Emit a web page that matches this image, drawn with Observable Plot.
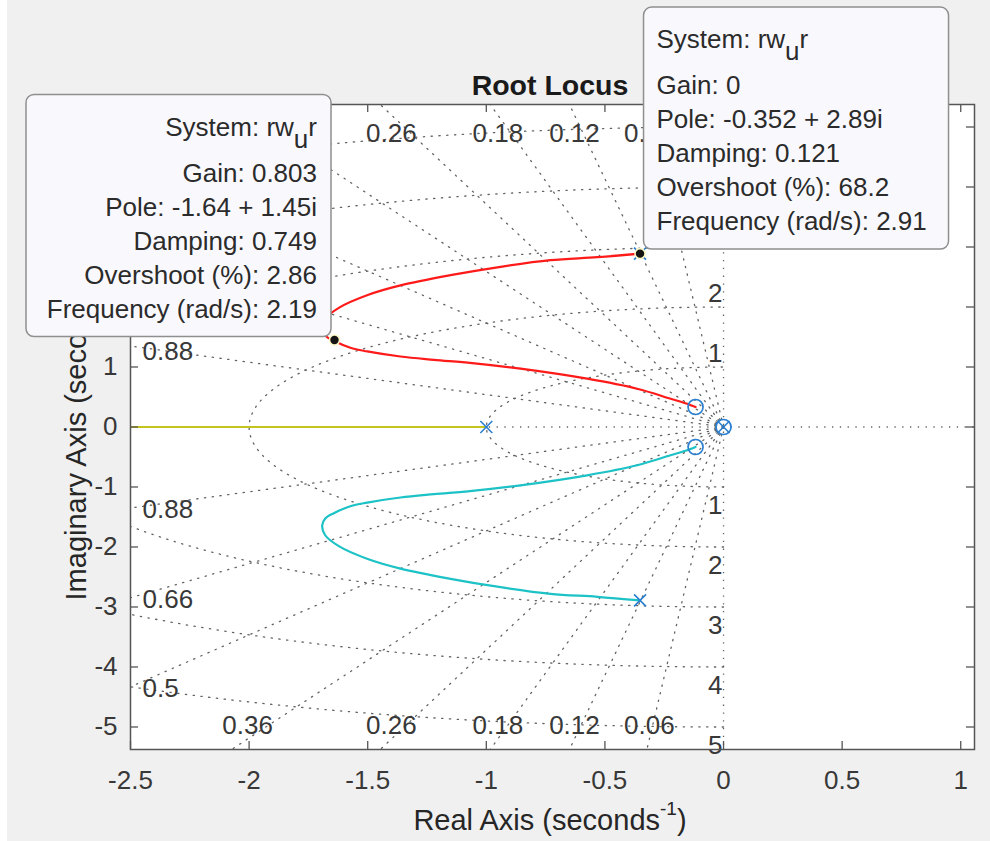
<!DOCTYPE html>
<html><head><meta charset="utf-8">
<script src="https://cdn.jsdelivr.net/npm/d3@7"></script>
<script src="https://cdn.jsdelivr.net/npm/@observablehq/plot@0.6"></script>
<style>
html,body{margin:0;padding:0;background:#f0f0f0;}
#chart{width:990px;height:841px;position:relative;overflow:hidden;}
svg{display:block}
</style></head><body><div id="chart"></div>
<script>
// ---------------- data ----------------
const xTicks = [-2.5, -2, -1.5, -1, -0.5, 0, 0.5, 1];
const yTicks = [-5, -4, -3, -2, -1, 0, 1, 2, 3, 4, 5];
const dampingValues = [0.06, 0.12, 0.18, 0.26, 0.36, 0.5, 0.66, 0.88];
const naturalFreqs = [1, 2, 3, 4, 5];

// upper complex branch (red), pole -> zero; the lower branch (cyan) is its conjugate
const upperBranchRe = [-0.352, -0.532, -0.73, -0.94, -1.151, -1.362, -1.50, -1.62, -1.68, -1.692, -1.678, -1.645, -1.573, -1.502, -1.362, -1.221, -1.06, -0.856, -0.575, -0.364, -0.223, -0.153, -0.118];
const upperBranchIm = [2.89, 2.83, 2.78, 2.67, 2.53, 2.36, 2.20, 1.99, 1.80, 1.64, 1.52, 1.44, 1.32, 1.26, 1.175, 1.12, 1.065, 0.972, 0.805, 0.638, 0.472, 0.388, 0.333];
// real-axis branch (yellow): from pole at -1 to the left limit
const realBranchRe = [-1, -2.5];

const poleRe = [-1, -0.352, -0.352, 0];
const poleIm = [0, 2.89, -2.89, 0];
const zeroRe = [-0.118, -0.118, 0];
const zeroIm = [0.333, -0.333, 0];

// data tips
const tipRe = [-1.64, -0.352];
const tipIm = [1.45, 2.89];
const tipGain = ["0.803", "0"];
const tipPole = ["-1.64 + 1.45i", "-0.352 + 2.89i"];
const tipDamping = ["0.749", "0.121"];
const tipOvershoot = ["2.86", "68.2"];
const tipFreq = ["2.19", "2.91"];
const systemName = ["rw", "u", "r"]; // rw_u r

// ---------------- geometry for grid ----------------
const X_DOMAIN = [-2.5, 1.058];
const Y_DOMAIN = [-5.375, 5.375];

const rays = [];
dampingValues.forEach(z => {
  [1, -1].forEach(s => {
    const id = z + "_" + s;
    rays.push({id, x: 0, y: 0});
    rays.push({id, x: -20 * z, y: s * 20 * Math.sqrt(1 - z * z)});
  });
});
const circles = [];
naturalFreqs.forEach(r => {
  for (let a = -90; a <= 90; a += 1) {
    const t = a * Math.PI / 180;
    circles.push({r, x: -r * Math.cos(t), y: r * Math.sin(t)});
  }
});
const leftLabels = [], edgeLabels = [];
dampingValues.forEach(z => {
  const t = Math.sqrt(1 - z * z) / z;
  if (t * -X_DOMAIN[0] <= Y_DOMAIN[1]) {
    leftLabels.push({z, x: X_DOMAIN[0], y: t * -X_DOMAIN[0]});
    leftLabels.push({z, x: X_DOMAIN[0], y: -t * -X_DOMAIN[0], low: true});
  } else {
    edgeLabels.push({z, x: -5.2 / t, y: Y_DOMAIN[1]});
    edgeLabels.push({z, x: -5.2 / t, y: Y_DOMAIN[0], low: true});
  }
});

const upper = upperBranchRe.map((x, i) => ({x, y: upperBranchIm[i]}));
const lower = upperBranchRe.map((x, i) => ({x, y: -upperBranchIm[i]}));
const realBranch = realBranchRe.map(x => ({x, y: 0}));
const poles = poleRe.map((x, i) => ({x, y: poleIm[i]}));
const zeros = zeroRe.map((x, i) => ({x, y: zeroIm[i]}));
const tips = tipRe.map((x, i) => ({x, y: tipIm[i]}));

const FONT = "'Liberation Sans', Arial, Helvetica, sans-serif";
const GRID = {stroke: "#636363", strokeWidth: 1.3, strokeDasharray: "1.3,6.5"};
const AXIS = "#555555";
const TXT = "#383838";
const W = 990, H = 841, ML = 130, MR = 16, MT = 104, MB = 92;
const FW = W - ML - MR, FH = H - MT - MB;

const plot = Plot.plot({
  width: W, height: H,
  marginLeft: ML, marginRight: MR, marginTop: MT, marginBottom: MB,
  x: {domain: X_DOMAIN},
  y: {domain: Y_DOMAIN},
  style: {fontFamily: FONT, background: "transparent", color: TXT, overflow: "visible"},
  marks: [
    Plot.frame({fill: "white", stroke: "none"}),
    // s-plane grid
    Plot.line(rays, {x: "x", y: "y", z: "id", ...GRID, clip: true}),
    Plot.line(circles, {x: "x", y: "y", z: "r", ...GRID, clip: true}),
    Plot.ruleY([0], {...GRID}),
    Plot.ruleX([0], {...GRID}),
    // loci
    Plot.line(realBranch, {x: "x", y: "y", stroke: "#c4c41e", strokeWidth: 2.2, clip: true}),
    Plot.line(upper, {x: "x", y: "y", stroke: "#ff1a1a", strokeWidth: 2.2, curve: "catmull-rom"}),
    Plot.line(lower, {x: "x", y: "y", stroke: "#1cc2c6", strokeWidth: 2.2, curve: "catmull-rom"}),
    // poles & zeros
    Plot.dot(poles, {x: "x", y: "y", symbol: "times", r: 5.5, stroke: "#2a7fd0", strokeWidth: 1.6}),
    Plot.dot(zeros, {x: "x", y: "y", symbol: "circle", r: 7.5, stroke: "#2a7fd0", strokeWidth: 1.7, fill: "none"}),
    // data tip markers
    Plot.dot(tips, {x: "x", y: "y", r: 5, fill: "#151515", stroke: "#fbf7c4", strokeWidth: 1.6}),
    // grid labels
    Plot.text(leftLabels.filter(d => !d.low), {x: "x", y: "y", text: d => String(d.z), textAnchor: "start", dx: 12, dy: 6, fontSize: 26, fill: TXT}),
    Plot.text(leftLabels.filter(d => d.low), {x: "x", y: "y", text: d => String(d.z), textAnchor: "start", dx: 12, dy: 2, fontSize: 26, fill: TXT}),
    Plot.text(edgeLabels.filter(d => !d.low), {x: "x", y: "y", text: d => String(d.z), dy: 29, fontSize: 26, fill: TXT}),
    Plot.text(edgeLabels.filter(d => d.low), {x: "x", y: "y", text: d => String(d.z), dy: -24, fontSize: 26, fill: TXT}),
    Plot.text(naturalFreqs, {x: 0, y: d => d, text: d => String(d), textAnchor: "end", dx: -1, dy: -13, fontSize: 26, fill: TXT}),
    Plot.text(naturalFreqs, {x: 0, y: d => -d, text: d => String(d), textAnchor: "end", dx: -1, dy: 19, fontSize: 26, fill: TXT}),
    // axes
    Plot.axisX(xTicks, {anchor: "bottom", tickSize: 0, tickPadding: 21, tickFormat: d => String(d), fontSize: 26, label: null}),
    Plot.axisY(yTicks, {anchor: "left", tickSize: 0, tickPadding: 13, tickFormat: d => String(d), fontSize: 26, label: null}),
    Plot.ruleX(xTicks, {x: d => d, insetTop: FH - 8, stroke: AXIS, strokeWidth: 1.3}),
    Plot.ruleX(xTicks, {x: d => d, insetBottom: FH - 8, stroke: AXIS, strokeWidth: 1.3}),
    Plot.ruleY(yTicks, {y: d => d, insetRight: FW - 8, stroke: AXIS, strokeWidth: 1.3}),
    Plot.ruleY(yTicks, {y: d => d, insetLeft: FW - 8, stroke: AXIS, strokeWidth: 1.3}),
    Plot.frame({stroke: AXIS, strokeWidth: 1.5})
  ]
});

document.getElementById("chart").appendChild(plot);

const svg = d3.select(plot);
const sx = plot.scale("x"), sy = plot.scale("y");
const plotTexts = Array.from(plot.querySelectorAll("text"));

// white strip at the left edge of the screenshot
svg.insert("rect", ":first-child").attr("x", 0).attr("y", 0).attr("width", 7).attr("height", H).attr("fill", "#ffffff");

// title
svg.append("text").attr("x", 550).attr("y", 95).attr("text-anchor", "middle")
  .attr("font-family", FONT).attr("font-size", 28.5).attr("font-weight", "bold").attr("fill", "#1a1a1a")
  .text("Root Locus");

// axis labels with superscript
function axisLabel(g, txt) {
  g.append("tspan").text(txt);
  g.append("tspan").attr("dy", -15).attr("font-size", 19).text("-1");
  g.append("tspan").attr("dy", 15).text(")");
}
const xl = svg.append("text").attr("x", 550).attr("y", 830).attr("text-anchor", "middle")
  .attr("font-family", FONT).attr("font-size", 29).attr("fill", "#262626");
axisLabel(xl, "Real Axis (seconds");
const yl = svg.append("text").attr("transform", "translate(86,430) rotate(-90)").attr("text-anchor", "middle")
  .attr("font-family", FONT).attr("font-size", 29).attr("fill", "#262626");
axisLabel(yl, "Imaginary Axis (seconds");

// data tip boxes
const BOX_W = 305, BOX_H = 242;
const placement = ["left", "right"];
const lineY = [41, 87, 121, 155, 189, 223];
const boxRects = [];
tips.forEach((d, i) => {
  const px = sx.apply(d.x), py = sy.apply(d.y);
  const left = placement[i] === "left";
  const bx = left ? px - 3 - BOX_W : px + 4;
  const by = left ? py - 3 - BOX_H : py - 4 - BOX_H;
  boxRects.push([bx, by, bx + BOX_W, by + BOX_H]);
  const g = svg.append("g");
  g.append("rect").attr("x", bx).attr("y", by).attr("width", BOX_W).attr("height", BOX_H)
    .attr("rx", 8).attr("fill", "#f9f9fd").attr("stroke", "#8f8f8f").attr("stroke-width", 1.5);
  const tx = left ? bx + BOX_W - 14 : bx + 13;
  const anchor = left ? "end" : "start";
  const lines = [
    null,
    "Gain: " + tipGain[i],
    "Pole: " + tipPole[i],
    "Damping: " + tipDamping[i],
    "Overshoot (%): " + tipOvershoot[i],
    "Frequency (rad/s): " + tipFreq[i]
  ];
  lines.forEach((s, k) => {
    const t = g.append("text").attr("x", tx).attr("y", by + lineY[k]).attr("text-anchor", anchor)
      .attr("font-family", FONT).attr("font-size", 26).attr("fill", "#2b2b2b");
    if (k === 0) {
      t.append("tspan").text("System: " + systemName[0]);
      t.append("tspan").attr("dy", 12).text(systemName[1]);
      t.append("tspan").attr("dy", -12).text(systemName[2]);
    } else {
      t.text(s);
    }
  });
});

// labels completely hidden behind a data tip are not drawn (as in the reference)
const svgBox = plot.getBoundingClientRect();
plotTexts.forEach(t => {
  const r = t.getBoundingClientRect();
  const x0 = r.left - svgBox.left, y0 = r.top - svgBox.top, x1 = x0 + r.width, y1 = y0 + r.height;
  if (boxRects.some(([a, b, c, e]) => x0 >= a && y0 >= b && x1 <= c && y1 <= e)) t.remove();
});
</script></body></html>
